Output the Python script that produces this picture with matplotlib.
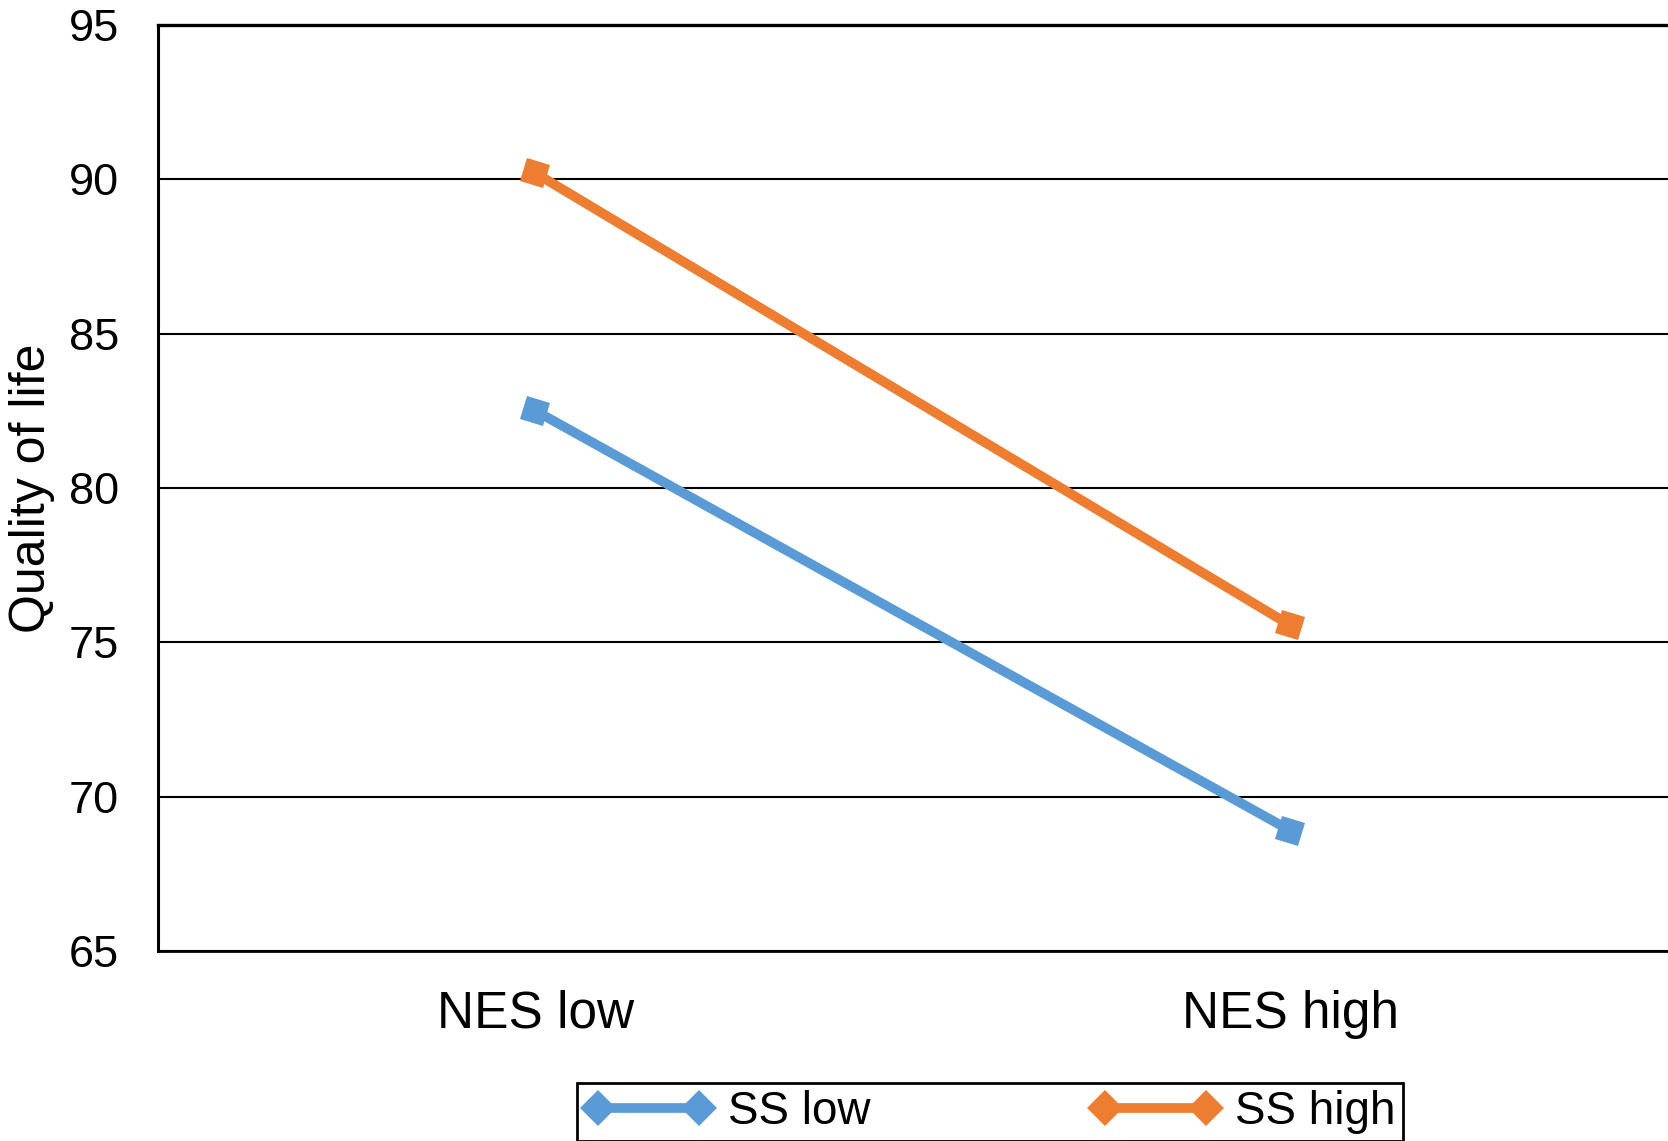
import matplotlib
matplotlib.use("Agg")
import matplotlib.pyplot as plt
from matplotlib.markers import MarkerStyle
from matplotlib.transforms import Affine2D
from matplotlib.lines import Line2D

plt.rcParams['font.family'] = ['Liberation Sans', 'DejaVu Sans']

categories = ["NES low", "NES high"]
series_names = ["SS low", "SS high"]
ss_low = [82.5, 68.9]
ss_high = [90.2, 75.55]
colors = ["#5B9BD5", "#ED7D31"]
yticks = [65, 70, 75, 80, 85, 90, 95]

fig = plt.figure(figsize=(16.68, 11.41), dpi=100)
ax = fig.add_axes([0.0947, 0.1665, 0.9053, 0.8116])

xpos = [0.5, 1.5]
mk = MarkerStyle('s', transform=Affine2D().rotate_deg(-18))
for vals, col, name in zip([ss_low, ss_high], colors, series_names):
    ax.plot(xpos, vals, color=col, lw=7, marker=mk, markersize=17,
            markeredgewidth=0, solid_capstyle='butt', label=name, zorder=3)

ax.set_xlim(0, 2)
ax.set_ylim(65, 95)
ax.set_yticks(yticks)
ax.set_xticks(xpos)
ax.set_xticklabels(categories, fontsize=37)
ax.tick_params(axis='y', labelsize=32.5, length=0, pad=28)
ax.tick_params(axis='x', length=0, pad=28)
ax.yaxis.grid(True, color='black', lw=1.5)
ax.set_axisbelow(True)
ax.spines['right'].set_visible(False)
ax.spines['top'].set_linewidth(2.4)
ax.spines['left'].set_linewidth(2.2)
ax.spines['bottom'].set_linewidth(2.0)

ax.set_ylabel("Quality of life", fontsize=36, va='center')
ax.yaxis.set_label_coords(-0.0835, 0.5)

handles = [Line2D([0], [0], color=c, lw=7, marker='D', markersize=18,
                  markeredgewidth=0) for c in colors]
leg = ax.legend(handles, series_names, loc='lower center',
                bbox_to_anchor=(0.5935, 0.0), bbox_transform=fig.transFigure,
                ncol=2, fontsize=33, frameon=True, fancybox=False,
                edgecolor='black', framealpha=1, borderaxespad=0,
                handlelength=2.8, handletextpad=0.35, columnspacing=4.8,
                borderpad=0.15, numpoints=2)
leg.get_frame().set_linewidth(2.0)

fig.savefig("out.png", dpi=100)
